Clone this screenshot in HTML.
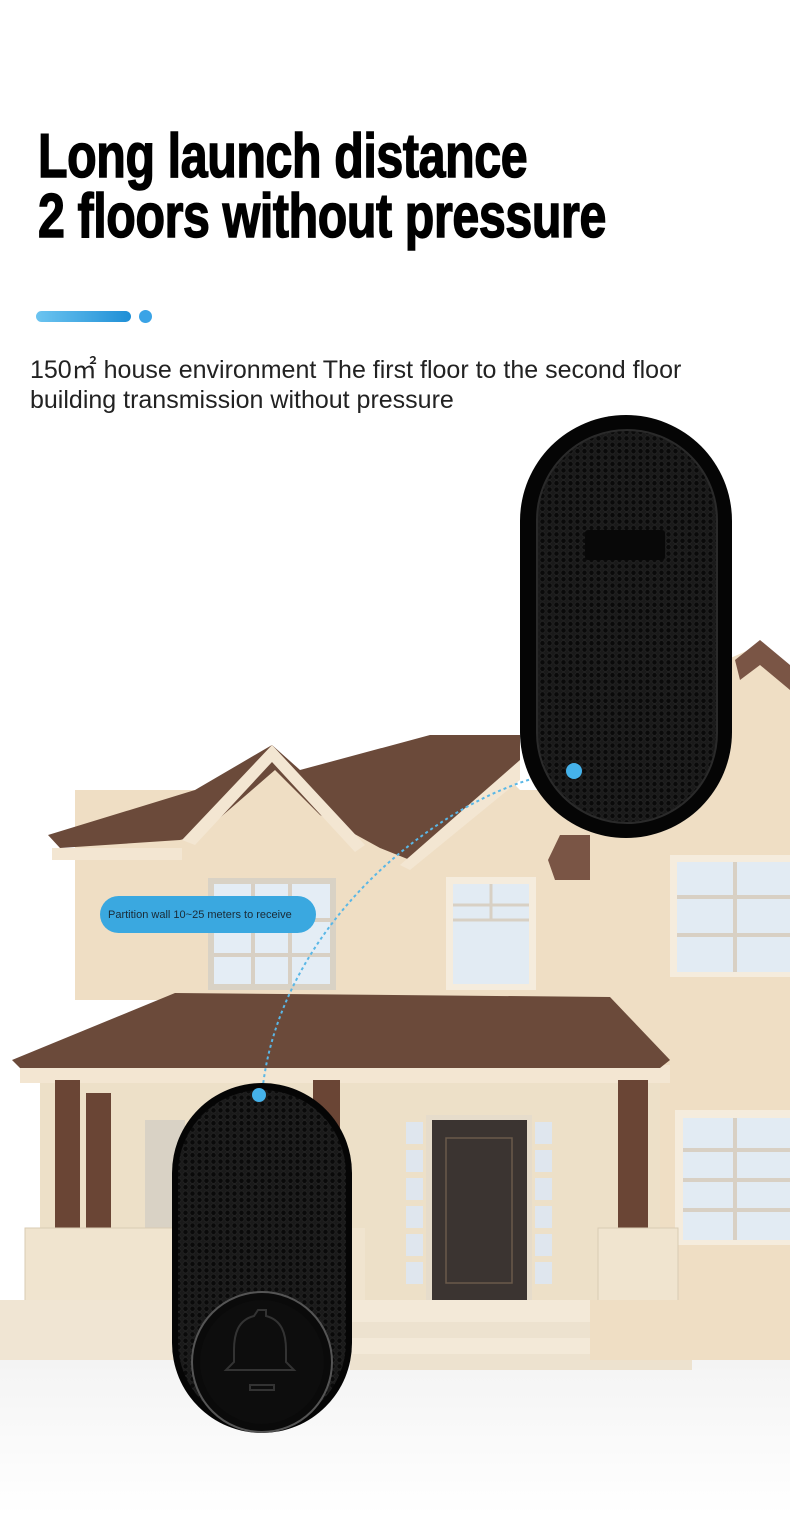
<!DOCTYPE html>
<html><head><meta charset="utf-8"><style>
html,body{margin:0;padding:0;background:#fff;}
body{width:790px;height:1515px;position:relative;overflow:hidden;font-family:"Liberation Sans",sans-serif;}
.t{position:absolute;left:38px;font-family:"Liberation Sans Narrow","Liberation Sans",sans-serif;font-weight:bold;font-size:62px;color:#000;transform:scaleX(0.78);transform-origin:left;letter-spacing:-0.5px;line-height:62px;white-space:nowrap;-webkit-text-stroke:1.5px #000;}
.s{position:absolute;left:30px;font-size:25px;color:#222;white-space:nowrap;}
</style></head><body>
<div class="t" style="top:126px">Long launch distance</div>
<div class="t" style="top:186px">2 floors without pressure</div>
<div style="position:absolute;left:36px;top:311px;width:95px;height:11px;border-radius:6px;background:linear-gradient(90deg,#6cc4f0,#1f8fd6)"></div>
<div style="position:absolute;left:139px;top:310px;width:13px;height:13px;border-radius:50%;background:#3aa3e6"></div>
<div class="s" style="top:350px">150㎡ house environment The first floor to the second floor</div>
<div class="s" style="top:386px">building transmission without pressure</div>
<svg width="790" height="1515" style="position:absolute;left:0;top:0" xmlns="http://www.w3.org/2000/svg">
<defs>
<pattern id="hx" width="7" height="6.4" patternUnits="userSpaceOnUse">
<rect width="7" height="6.4" fill="#1a1a1a"/><circle cx="3.5" cy="3.2" r="2.6" fill="#0a0a0a" stroke="#262626" stroke-width="0.6"/>
</pattern>
<linearGradient id="gr" x1="0" y1="0" x2="0" y2="1"><stop offset="0" stop-color="#f4f4f4"/><stop offset="1" stop-color="#fff"/></linearGradient>
</defs>
<rect x="0" y="1360" width="790" height="155" fill="url(#gr)"/>
<polygon points="590,720 760,645 790,670 790,1360 590,1360" fill="#efdec4"/>
<polygon points="735,660 760,640 790,665 790,690 760,665 740,680" fill="#7a5545"/>
<rect x="75" y="790" width="520" height="210" fill="#efdec4"/>
<polygon points="185,840 272,750 365,840" fill="#efdec4"/>
<polygon points="400,860 500,770 590,860" fill="#efdec4"/>
<polygon points="48,835 195,790 272,745 300,770 430,735 520,735 520,770 410,860 380,848 320,815 275,770 200,835 180,840 60,848" fill="#6b4a3a"/>
<polygon points="272,745 365,845 355,852 272,762 195,845 182,840" fill="#f3e6d2"/>
<polygon points="520,760 400,865 410,870 520,780" fill="#f3e6d2"/>
<rect x="52" y="848" width="130" height="12" fill="#f3e6d2"/>
<polygon points="548,860 560,835 590,835 590,880 555,880" fill="#7a5545"/>
<rect x="208" y="878" width="128" height="112" fill="#d9d2c5"/>
<rect x="214" y="884" width="116" height="100" fill="#e4edf5"/>
<path d="M214,920H330M214,955H330M253,884V984M290,884V984" stroke="#d8d0c4" stroke-width="4"/>
<rect x="446" y="877" width="90" height="113" fill="#f5ecdd"/>
<rect x="453" y="884" width="76" height="100" fill="#e2ebf3"/>
<path d="M453,905H529M453,920H529M491,884V920" stroke="#d8d0c4" stroke-width="3"/>
<rect x="670" y="855" width="120" height="122" fill="#f5ecdd"/>
<rect x="677" y="862" width="113" height="110" fill="#e2ebf3"/>
<path d="M677,897H790M677,935H790M735,862V972" stroke="#d8d0c4" stroke-width="4"/>
<rect x="675" y="1110" width="115" height="135" fill="#f5ecdd"/>
<rect x="683" y="1118" width="107" height="122" fill="#e2ebf3"/>
<path d="M683,1150H790M683,1180H790M683,1210H790M735,1118V1240" stroke="#d8d0c4" stroke-width="4"/>
<rect x="40" y="1065" width="620" height="240" fill="#ede0c8"/>
<rect x="20" y="1065" width="650" height="18" fill="#f3e6d2"/>
<polygon points="12,1060 175,993 610,997 670,1060 660,1068 20,1068" fill="#6b4a3a"/>
<rect x="145" y="1120" width="40" height="120" fill="#d9d2c5"/>
<rect x="426" y="1115" width="106" height="188" fill="#e6dccb"/>
<rect x="432" y="1120" width="95" height="180" fill="#3b3431"/>
<rect x="446" y="1138" width="66" height="145" fill="none" stroke="#6b5a4a" stroke-width="1.5"/>
<g fill="#dfe6ee"><rect x="406" y="1122" width="17" height="22"/><rect x="406" y="1150" width="17" height="22"/><rect x="406" y="1178" width="17" height="22"/><rect x="406" y="1206" width="17" height="22"/><rect x="406" y="1234" width="17" height="22"/><rect x="406" y="1262" width="17" height="22"/>
<rect x="535" y="1122" width="17" height="22"/><rect x="535" y="1150" width="17" height="22"/><rect x="535" y="1178" width="17" height="22"/><rect x="535" y="1206" width="17" height="22"/><rect x="535" y="1234" width="17" height="22"/><rect x="535" y="1262" width="17" height="22"/></g>
<g fill="#6a4535"><rect x="55" y="1080" width="25" height="150"/><rect x="86" y="1093" width="25" height="137"/><rect x="313" y="1080" width="27" height="150"/><rect x="618" y="1080" width="30" height="150"/></g>
<rect x="25" y="1228" width="150" height="75" fill="#f0e4cf" stroke="#d9cbb3"/>
<rect x="598" y="1228" width="80" height="75" fill="#f0e4cf" stroke="#d9cbb3"/>
<rect x="340" y="1228" width="25" height="75" fill="#f0e4cf"/>
<rect x="0" y="1300" width="360" height="60" fill="#f0e5d3"/>
<rect x="350" y="1300" width="255" height="22" fill="#f3e9d8"/>
<rect x="350" y="1322" width="295" height="16" fill="#ede2cf"/>
<rect x="350" y="1338" width="318" height="16" fill="#f3e9d8"/>
<rect x="350" y="1354" width="342" height="16" fill="#ede2cf"/>
<rect x="590" y="1300" width="110" height="60" fill="#efdec4"/>
<path d="M262,1095 C270,1000 330,900 430,830 C480,795 530,775 574,770" fill="none" stroke="#5ab7e6" stroke-width="2" stroke-dasharray="3,3"/>
<rect x="520" y="415" width="212" height="423" rx="106" fill="#050505"/>
<rect x="537" y="430" width="180" height="393" rx="90" fill="url(#hx)" stroke="#2a2a2a" stroke-width="2"/>
<rect x="585" y="530" width="80" height="30" rx="3" fill="#080808"/>
<circle cx="574" cy="771" r="8" fill="#45b2ea"/>
<rect x="172" y="1083" width="180" height="350" rx="90" fill="#050505"/>
<rect x="178" y="1090" width="168" height="336" rx="84" fill="url(#hx)"/>
<circle cx="262" cy="1362" r="70" fill="#0a0a0a" stroke="#555" stroke-width="2"/>
<circle cx="262" cy="1362" r="62" fill="#0d0d0d"/>
<path d="M258,1310h8v6 c16,4 20,18 20,34 v12 l8,8 h-68 l8,-8 v-12 c0,-16 4,-30 20,-34z M250,1385 h24 v5 h-24z" fill="none" stroke="#333" stroke-width="2"/>
<circle cx="259" cy="1095" r="7" fill="#45b2ea"/>
<rect x="100" y="896" width="216" height="37" rx="18.5" fill="#3aa8e0"/>
<text x="108" y="918" font-family="Liberation Sans, sans-serif" font-size="11" fill="#1a2a35">Partition wall 10~25 meters to receive</text>
</svg>
</body></html>
